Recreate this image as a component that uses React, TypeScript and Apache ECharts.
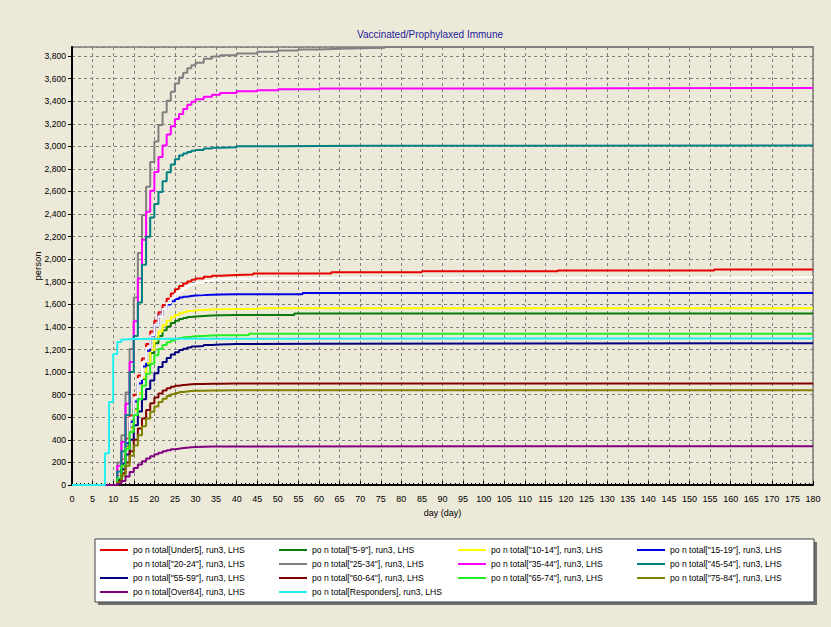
import React, { useEffect, useRef } from "react";
import * as echarts from "echarts";

const BG = "#ECE9D8";
const FONT = "'Liberation Sans', Arial, sans-serif";

const TITLE = "Vaccinated/Prophylaxed Immune";
const X_NAME = "day (day)";
const Y_NAME = "person";

// shared sampling days for the ramp-up phase
const DAYS = [0, 10, 11, 12, 13, 14, 15, 16, 17, 18, 19, 20, 21, 22, 23, 24, 25, 26, 27, 28, 29, 30, 32, 34, 36, 40];

const NAMES = [
  "po n total[Under5], run3, LHS",
  'po n total["5-9"], run3, LHS',
  'po n total["10-14"], run3, LHS',
  'po n total["15-19"], run3, LHS',
  'po n total["20-24"], run3, LHS',
  'po n total["25-34"], run3, LHS',
  'po n total["35-44"], run3, LHS',
  'po n total["45-54"], run3, LHS',
  'po n total["55-59"], run3, LHS',
  'po n total["60-64"], run3, LHS',
  'po n total["65-74"], run3, LHS',
  'po n total["75-84"], run3, LHS',
  "po n total[Over84], run3, LHS",
  "po n total[Responders], run3, LHS",
];

const COLORS = [
  "#e80000", "#0a7a0a", "#ffff00", "#0000e8", "#ffffff", "#808080", "#ff00ff",
  "#008080", "#000080", "#800000", "#22ee22", "#808000", "#800080", "#22f0f0",
];

const under5 = [0, 0, 75, 224, 410, 615, 800, 970, 1120, 1250, 1360, 1455, 1530, 1595, 1650, 1697, 1735, 1762, 1785, 1803, 1818, 1830, 1845, 1854, 1860, 1865];
const under5Tail = [[44, 1873], [63, 1885], [85, 1893], [118, 1900], [156, 1910], [180, 1912]];
const age5to9 = [0, 0, 60, 180, 340, 510, 670, 810, 940, 1060, 1170, 1255, 1320, 1370, 1405, 1435, 1455, 1470, 1480, 1488, 1493, 1497, 1501, 1504, 1506, 1507];
const age5to9Tail = [[54, 1520], [180, 1521]];
const age10to14 = [0, 0, 55, 170, 330, 500, 660, 810, 950, 1080, 1195, 1290, 1360, 1415, 1455, 1485, 1507, 1522, 1533, 1541, 1547, 1551, 1555, 1557, 1558, 1558];
const age10to14Tail = [[45, 1565], [180, 1568]];
const age15to19 = [0, 0, 60, 190, 370, 560, 740, 900, 1050, 1190, 1320, 1420, 1500, 1560, 1600, 1628, 1648, 1660, 1668, 1674, 1679, 1682, 1686, 1688, 1689, 1690];
const age15to19Tail = [[56, 1700], [180, 1702]];
const age20to24 = [0, 0, 70, 215, 395, 595, 775, 940, 1090, 1215, 1325, 1420, 1495, 1560, 1612, 1657, 1694, 1722, 1745, 1765, 1780, 1792, 1808, 1818, 1825, 1831];
const age20to24Tail = [[60, 1836], [120, 1840], [180, 1844]];
const age25to34 = [0, 0, 200, 440, 820, 1205, 1660, 2055, 2392, 2641, 2861, 3043, 3190, 3301, 3404, 3483, 3556, 3609, 3653, 3691, 3718, 3741, 3775, 3795, 3808, 3822];
const age25to34Tail = [[45, 3838], [50, 3850], [55, 3858], [60, 3864], [65, 3868], [70, 3874], [76, 3882], [180, 3890]];
const age35to44 = [0, 0, 170, 380, 720, 1090, 1450, 1830, 2172, 2421, 2606, 2773, 2905, 3008, 3105, 3178, 3242, 3286, 3330, 3368, 3395, 3418, 3440, 3458, 3472, 3487];
const age35to44Tail = [[45, 3497], [50, 3505], [60, 3512], [80, 3517], [180, 3520]];
const age45to54 = [0, 0, 120, 300, 620, 1000, 1320, 1616, 1950, 2200, 2370, 2490, 2595, 2690, 2770, 2840, 2885, 2918, 2937, 2950, 2960, 2968, 2980, 2988, 2993, 3000];
const age45to54Tail = [[50, 3005], [70, 3008], [180, 3010]];
const age55to59 = [0, 0, 45, 140, 270, 400, 530, 650, 760, 850, 925, 990, 1045, 1090, 1125, 1155, 1177, 1195, 1208, 1218, 1226, 1232, 1240, 1245, 1249, 1252];
const age55to59Tail = [[60, 1255], [180, 1256]];
const age60to64 = [0, 0, 35, 105, 200, 300, 400, 500, 590, 665, 725, 775, 810, 838, 857, 870, 879, 885, 889, 892, 894, 895, 897, 898, 899, 900];
const age60to64Tail = [[180, 902]];
const age65to74 = [0, 0, 60, 170, 320, 470, 620, 760, 880, 985, 1075, 1150, 1205, 1240, 1264, 1280, 1293, 1302, 1309, 1314, 1318, 1321, 1324, 1326, 1327, 1328];
const age65to74Tail = [[43, 1340], [180, 1342]];
const age75to84 = [0, 0, 25, 85, 170, 260, 350, 440, 520, 590, 648, 695, 735, 765, 788, 805, 816, 824, 829, 833, 835, 836, 837, 838, 839, 840];
const age75to84Tail = [[180, 842]];
const over84 = [0, 0, 10, 35, 75, 115, 150, 182, 210, 235, 255, 272, 286, 298, 308, 316, 322, 327, 331, 334, 336, 338, 340, 341, 342, 343];
const over84Tail = [[180, 344]];

const RESP_DAYS = [0, 7, 8, 9, 10, 11, 12, 13, 15, 25, 180];
const responders = [0, 0, 281, 736, 1161, 1266, 1288, 1293, 1296, 1298, 1299];

const RAMPS = [
  [under5, under5Tail], [age5to9, age5to9Tail], [age10to14, age10to14Tail], [age15to19, age15to19Tail],
  [age20to24, age20to24Tail], [age25to34, age25to34Tail], [age35to44, age35to44Tail], [age45to54, age45to54Tail],
  [age55to59, age55to59Tail], [age60to64, age60to64Tail], [age65to74, age65to74Tail], [age75to84, age75to84Tail],
  [over84, over84Tail],
];

export default function App() {
  const ref = useRef<HTMLDivElement>(null);
  useEffect(() => {
    document.body.style.margin = "0";
    document.body.style.background = BG;
    const chart = echarts.init(ref.current!, null, { renderer: "svg" });

    const dataSets: number[][][] = RAMPS.map(([vals, tail]: any) =>
      DAYS.map((d, i) => [d, vals[i]]).concat(tail)
    );
    dataSets.push(RESP_DAYS.map((d, i) => [d, responders[i]]));

    const series = NAMES.map((name, i) => ({
      name,
      type: "line",
      step: "end",
      showSymbol: false,
      symbol: "none",
      data: dataSets[i],
      lineStyle: { color: COLORS[i], width: 2 },
      itemStyle: { color: COLORS[i] },
      emphasis: { disabled: true },
      z: 2 + i * 0.01,
    }));

    const dashed = { show: true, lineStyle: { color: "#808080", type: [3, 3], width: 1 } };

    chart.setOption({
      animation: false,
      backgroundColor: BG,
      textStyle: { fontFamily: FONT },
      grid: {
        left: 72, right: 18, top: 47, bottom: 142,
        show: true, borderColor: "#444", borderWidth: 1, backgroundColor: "transparent",
      },
      xAxis: {
        type: "value", min: 0, max: 180, interval: 5,
        name: X_NAME, nameLocation: "middle", nameGap: 23,
        nameTextStyle: { fontSize: 9, color: "#000", fontFamily: FONT },
        axisLine: { show: true, onZero: false, lineStyle: { color: "#000", width: 2 } },
        axisTick: { show: true, inside: true, length: 4, lineStyle: { color: "#000" } },
        minorTick: { show: true, splitNumber: 5, length: 2, lineStyle: { color: "#000" } },
        axisLabel: { fontSize: 9, color: "#000", margin: 9, fontFamily: FONT },
        splitLine: dashed,
      },
      yAxis: {
        type: "value", min: 0, max: 3880, interval: 200,
        name: Y_NAME, nameLocation: "middle", nameGap: 30, nameRotate: 90,
        nameMoveOverlap: false,
        nameTextStyle: { fontSize: 9.5, color: "#000", fontFamily: FONT },
        axisLine: { show: true, lineStyle: { color: "#000", width: 2 } },
        axisTick: { show: true, length: 4, lineStyle: { color: "#000" } },
        axisLabel: {
          fontSize: 8.6, color: "#000", margin: 6, fontFamily: FONT, showMaxLabel: false,
          formatter: (v: number) => v.toLocaleString("en-US"),
        },
        splitLine: dashed,
      },
      legend: {
        data: NAMES,
        left: 100, top: 544, width: 720,
        orient: "horizontal",
        icon: "rect", itemWidth: 28, itemHeight: 2, itemGap: 2,
        padding: 0, selectedMode: false, z: 10,
        formatter: (name: string) => "{t|" + name + "}",
        textStyle: {
          fontSize: 8.6, color: "#000", fontFamily: FONT,
          rich: { t: { width: 144, height: 12, lineHeight: 12, fontSize: 8.6, fontFamily: FONT, color: "#000" } },
        },
      },
      graphic: [
        { type: "rect", z: 1, shape: { x: 98, y: 542, width: 719, height: 63 }, style: { fill: "#707070" } },
        { type: "rect", z: 1, shape: { x: 95, y: 539, width: 719, height: 63 }, style: { fill: "#ffffff", stroke: "#404040", lineWidth: 1 } },
        {
          type: "text", z: 5, x: 430, y: 34,
          style: { text: TITLE, fill: "#1c1c9c", fontSize: 10, fontFamily: FONT, textAlign: "center", textVerticalAlign: "middle" },
        },
      ],
      series,
    });
    return () => chart.dispose();
  }, []);
  return <div ref={ref} style={{ width: 831, height: 627, background: BG }} />;
}
